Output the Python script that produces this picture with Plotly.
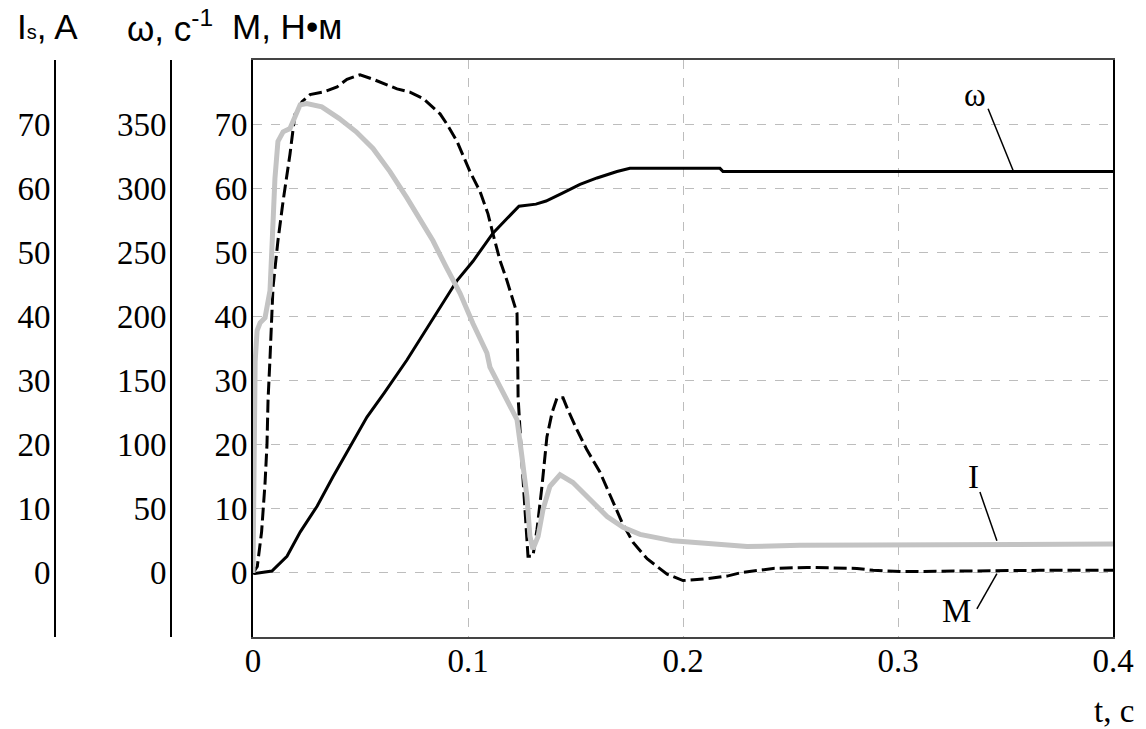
import plotly.graph_objects as go

# ---- data ----
t_I = [0, 0.0005, 0.001, 0.0019, 0.0033, 0.0056, 0.0079, 0.0088, 0.0102, 0.0116, 0.014, 0.0172,
       0.0195, 0.0219, 0.025, 0.032, 0.04, 0.048, 0.0558, 0.0637, 0.0716, 0.079, 0.0837, 0.09,
       0.0963, 0.1023, 0.1088, 0.1102, 0.1181, 0.1228, 0.1251, 0.1274, 0.1288, 0.1302, 0.1326,
       0.1349, 0.1381, 0.1428, 0.1488, 0.1567, 0.1647, 0.1721, 0.18, 0.1953, 0.2112, 0.2298,
       0.2544, 0.4]
I_vals = [0, 20, 33, 37.8, 39, 39.8, 44, 50.7, 61.5, 67.3, 68.8, 69.3,
          70.9, 73, 73.2, 72.7, 70.9, 68.8, 66.2, 62.6, 58.5, 54.4, 51.8, 47.6,
          43.6, 38.9, 34.3, 32.1, 27, 23.9, 18.1, 11.9, 5.7, 3.7, 5.7,
          9.9, 13.5, 15.3, 14.1, 11.5, 8.8, 7.1, 6, 5, 4.5, 4.1,
          4.3, 4.5]

t_w = [0, 0.0009, 0.0088, 0.0158, 0.022, 0.0298, 0.0372, 0.0451, 0.053, 0.0609, 0.0674,
       0.0716, 0.0949, 0.1023, 0.1116, 0.1228, 0.1237, 0.1316, 0.1363, 0.1437, 0.1521, 0.16,
       0.1693, 0.1753, 0.2172, 0.2186, 0.4]
w_vals = [0, -0.5, 1.5, 13, 32, 52, 75, 98.5, 121.5, 140, 156,
          166, 228, 243, 265, 284, 286, 287.6, 290, 296, 303, 308,
          313, 315.5, 315.5, 313, 313]

t_M = [0, 0.002, 0.004, 0.0056, 0.0065, 0.007, 0.0079, 0.0093, 0.0116, 0.014, 0.0172, 0.0195,
       0.0228, 0.0265, 0.0326, 0.0391, 0.0437, 0.0498, 0.0558, 0.0623, 0.067, 0.073, 0.0791,
       0.087, 0.0902, 0.0949, 0.1009, 0.1056, 0.1093, 0.1116, 0.1149, 0.1181, 0.1209, 0.1228,
       0.1231, 0.1233, 0.1251, 0.1265, 0.1279, 0.1302, 0.1321, 0.1344, 0.1367, 0.1391, 0.1414,
       0.1442, 0.1465, 0.1507, 0.1553, 0.1614, 0.1674, 0.1716, 0.1767, 0.1833, 0.1926, 0.2,
       0.2112, 0.2205, 0.2265, 0.2344, 0.2419, 0.2577, 0.2809, 0.2884, 0.3009, 0.366, 0.4]
M_vals = [0, 1, 6.4, 14, 20, 27, 33.4, 44.5, 51.8, 58, 65.3, 71.5,
          73.5, 74.6, 75, 75.8, 77, 77.7, 77, 76.1, 75.5, 75, 74,
          71.6, 70, 67.3, 62.6, 59.5, 56, 52.9, 48.7, 45.6, 42.5, 40.5,
          33.6, 27.4, 17.2, 9.5, 2.6, 2.6, 6.8, 13.5, 21.2, 25, 27.3,
          27.3, 25.4, 22.3, 19.2, 15.7, 11, 7.9, 4.8, 2.2, -0.2, -1.2,
          -0.9, -0.5, 0, 0.4, 0.7, 0.85, 0.7, 0.4, 0.2, 0.4, 0.4]

x_ticks = [0, 0.1, 0.2, 0.3, 0.4]
x_ticktext = ["0", "0.1", "0.2", "0.3", "0.4"]
M_ticks = [0, 10, 20, 30, 40, 50, 60, 70]
I_ticks = [0, 10, 20, 30, 40, 50, 60, 70]
w_ticks = [0, 50, 100, 150, 200, 250, 300, 350]

# ---- geometry ----
W, H = 1146, 729
ML, MR, MT, MB = 0, 33, 60, 92
PW = W - ML - MR          # paper width
PH = H - MT - MB          # paper height
px = lambda x: x / PW
py = lambda y: (H - MB - y) / PH

serif = "Liberation Serif"
sans = "Liberation Sans"

fig = go.Figure()
fig.add_trace(go.Scatter(x=t_I, y=I_vals, yaxis="y3", mode="lines",
                         line=dict(color="#c3c3c3", width=5), name="I"))
fig.add_trace(go.Scatter(x=t_w, y=w_vals, yaxis="y2", mode="lines",
                         line=dict(color="black", width=3), name="ω"))
fig.add_trace(go.Scatter(x=t_M, y=M_vals, yaxis="y", mode="lines",
                         line=dict(color="black", width=3, dash="13px,5px"), name="M"))

grid = dict(showgrid=True, gridcolor="#bdbdbd", gridwidth=1, griddash="dash")
tickfont = dict(family=serif, size=33, color="black")

fig.update_layout(
    width=W, height=H, margin=dict(l=ML, r=MR, t=MT, b=MB),
    paper_bgcolor="white", plot_bgcolor="white", showlegend=False,
    xaxis=dict(domain=[px(253), 1], range=[0, 0.4], tickvals=x_ticks, ticktext=x_ticktext,
               ticks="", ticklabelstandoff=-7, tickfont=tickfont,
               showline=True, mirror=True, linecolor="#444", linewidth=2, zeroline=False,
               automargin=False, **grid),
    yaxis=dict(range=[-10, 80], tickvals=M_ticks, ticks="", ticklabelstandoff=-3,
               tickfont=tickfont, showline=True, mirror=True,
               linecolor="black", linewidth=2, zeroline=False, automargin=False, **grid),
    yaxis2=dict(range=[-50, 400], tickvals=w_ticks, overlaying="y", anchor="free",
                position=px(171), side="left", ticks="", ticklabelstandoff=-3,
                tickfont=tickfont, showline=True,
                linecolor="black", linewidth=2, showgrid=False, zeroline=False, automargin=False),
    yaxis3=dict(range=[-10, 80], tickvals=I_ticks, overlaying="y", anchor="free",
                position=px(55), side="left", ticks="", ticklabelstandoff=-3,
                tickfont=tickfont, showline=True,
                linecolor="black", linewidth=2, showgrid=False, zeroline=False, automargin=False),
)

# axis titles
titles = [
    ("I<span style='font-size:20px'>s</span>, A", 15),
    ("ω, с<sup>-1</sup>", 125),
    ("M, Н•м", 230),
]
for txt, x0 in titles:
    fig.add_annotation(text=txt, xref="paper", yref="paper", x=px(x0), y=py(26),
                       xanchor="left", yanchor="middle", showarrow=False,
                       font=dict(family=sans, size=35, color="black"))
fig.add_annotation(text="t, с", xref="paper", yref="paper", x=px(1136), y=py(711),
                   xanchor="right", yanchor="middle", showarrow=False,
                   font=dict(family=serif, size=33, color="black"))

# curve labels with leader lines (in M-axis units)
labels = [("ω", 0.3358, 74.6), ("I", 0.3349, 15.0), ("M", 0.327, -5.9)]
for txt, lx, ly in labels:
    fig.add_annotation(text=txt, x=lx, y=ly, xref="x", yref="y", showarrow=False,
                       font=dict(family=serif, size=33, color="black"))
leaders = [((0.3419, 72.4), (0.3535, 62.8)),
           ((0.3381, 12.6), (0.3460, 5.0)),
           ((0.3367, -5.6), (0.3460, -0.1))]
for (x0, y0), (x1, y1) in leaders:
    fig.add_shape(type="line", xref="x", yref="y", x0=x0, y0=y0, x1=x1, y1=y1,
                  line=dict(color="black", width=1.5))

fig.write_html("out.html")
